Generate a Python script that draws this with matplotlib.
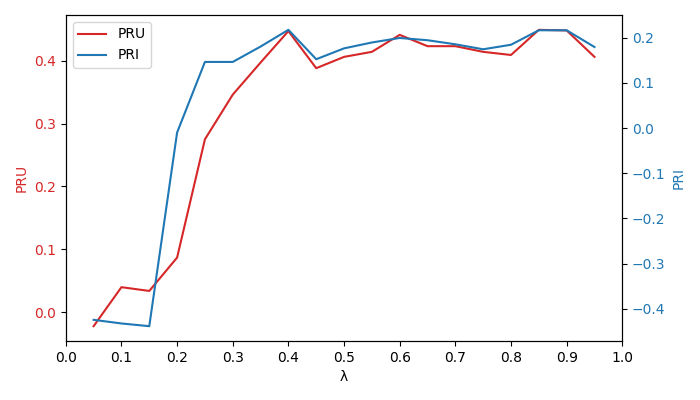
import matplotlib
matplotlib.use("Agg")
import matplotlib.pyplot as plt

lambdas = [0.05, 0.1, 0.15, 0.2, 0.25, 0.3, 0.35, 0.4, 0.45, 0.5,
           0.55, 0.6, 0.65, 0.7, 0.75, 0.8, 0.85, 0.9, 0.95]
pru = [-0.022, 0.040, 0.034, 0.087, 0.275, 0.346, 0.397, 0.447, 0.388, 0.406,
       0.414, 0.441, 0.423, 0.423, 0.414, 0.409, 0.449, 0.448, 0.406]
pri = [-0.424, -0.432, -0.438, -0.010, 0.146, 0.146, 0.180, 0.217, 0.152, 0.176,
       0.189, 0.199, 0.194, 0.185, 0.174, 0.184, 0.216, 0.216, 0.179]

fig, ax1 = plt.subplots(figsize=(7, 4), dpi=100)
fig.subplots_adjust(left=0.094, right=0.889, top=0.9625, bottom=0.1475)

l1, = ax1.plot(lambdas, pru, color="tab:red", label="PRU")
ax1.set_xlabel("λ")
ax1.set_ylabel("PRU", color="tab:red")
ax1.tick_params(axis="y", labelcolor="tab:red")
ax1.set_xlim(0, 1.0)
ax1.set_xticks([i / 10 for i in range(11)])

ax2 = ax1.twinx()
l2, = ax2.plot(lambdas, pri, color="tab:blue", label="PRI")
ax2.set_ylabel("PRI", color="tab:blue")
ax2.tick_params(axis="y", labelcolor="tab:blue")

ax1.legend(handles=[l1, l2], loc="upper left")

fig.savefig("out.png")
